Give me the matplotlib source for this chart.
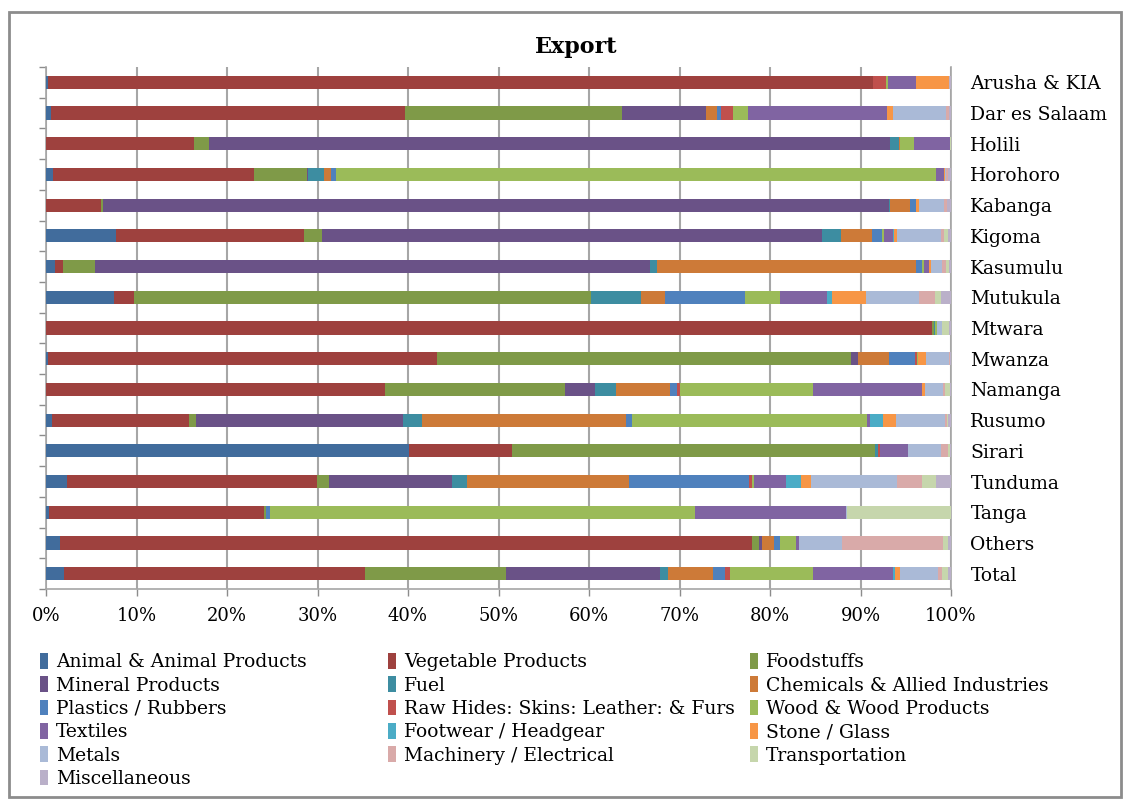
import numpy as np
import matplotlib
matplotlib.use('Agg')
import matplotlib.pyplot as plt
from matplotlib.patches import Rectangle, Patch

plt.rcParams['font.family'] = ['DejaVu Serif']

# row labels, top to bottom
locations = ['Arusha & KIA', 'Dar es Salaam', 'Holili', 'Horohoro', 'Kabanga',
             'Kigoma', 'Kasumulu', 'Mutukula', 'Mtwara', 'Mwanza', 'Namanga',
             'Rusumo', 'Sirari', 'Tunduma', 'Tanga', 'Others', 'Total']

sectors = ['Animal & Animal Products', 'Vegetable Products', 'Foodstuffs',
           'Mineral Products', 'Fuel', 'Chemicals & Allied Industries',
           'Plastics / Rubbers', 'Raw Hides: Skins: Leather: & Furs',
           'Wood & Wood Products', 'Textiles', 'Footwear / Headgear',
           'Stone / Glass', 'Metals', 'Machinery / Electrical',
           'Transportation', 'Miscellaneous']

colors = ['#416C9C', '#9E413E', '#7F9A48', '#6A5287', '#3D8DA1', '#CD7A38',
          '#4F81BD', '#C0504D', '#9BBB59', '#8064A2', '#4BACC6', '#F79646',
          '#AABAD7', '#D9AAA9', '#C6D6AC', '#BAB0C9']

# share (%) of each sector, one list per sector, in the order of `locations`
animal    = [0.2, 0.6, 0.0, 0.8, 0.0, 7.7, 1.0, 7.5, 0.0, 0.2, 0.0, 0.7, 40.1, 2.3, 0.3, 1.5, 2.0]
vegetable = [91.2, 39.1, 16.3, 22.2, 6.1, 20.8, 0.9, 2.2, 97.9, 43.0, 37.5, 15.1, 11.4, 27.6, 23.8, 76.5, 33.3]
foodstuff = [0.0, 23.9, 1.7, 5.8, 0.2, 2.0, 3.5, 50.5, 0.2, 45.8, 19.8, 0.8, 40.1, 1.4, 0.2, 0.8, 15.5]
mineral   = [0.0, 9.3, 75.3, 0.1, 86.9, 55.3, 61.3, 0.0, 0.0, 0.7, 3.4, 22.9, 0.0, 13.6, 0.0, 0.3, 17.0]
fuel      = [0.0, 0.0, 1.0, 1.8, 0.1, 2.0, 0.8, 5.5, 0.1, 0.0, 2.3, 2.0, 0.3, 1.6, 0.0, 0.0, 0.9]
chemicals = [0.0, 1.2, 0.1, 0.8, 2.2, 3.5, 28.6, 2.7, 0.0, 3.5, 6.0, 22.6, 0.0, 17.9, 0.0, 1.3, 5.0]
plastics  = [0.0, 0.5, 0.0, 0.5, 0.6, 1.1, 0.7, 8.8, 0.0, 2.8, 0.7, 0.6, 0.0, 13.3, 0.4, 0.7, 1.3]
raw_hides = [1.4, 1.3, 0.0, 0.0, 0.0, 0.0, 0.0, 0.0, 0.0, 0.2, 0.4, 0.0, 0.3, 0.3, 0.0, 0.0, 0.6]
wood      = [0.2, 1.7, 1.5, 66.3, 0.0, 0.2, 0.2, 3.9, 0.2, 0.1, 14.6, 26.0, 0.0, 0.2, 47.0, 1.8, 9.2]
textiles  = [3.1, 15.3, 4.0, 0.9, 0.0, 1.0, 0.6, 5.2, 0.0, 0.1, 12.1, 0.4, 3.1, 3.6, 16.7, 0.3, 8.8]
footwear  = [0.0, 0.0, 0.0, 0.0, 0.0, 0.1, 0.0, 0.5, 0.0, 0.0, 0.0, 1.4, 0.0, 1.6, 0.0, 0.0, 0.2]
stone     = [3.7, 0.7, 0.0, 0.1, 0.4, 0.3, 0.2, 3.8, 0.0, 0.8, 0.3, 1.4, 0.0, 1.1, 0.0, 0.0, 0.6]
metals    = [0.0, 5.9, 0.0, 0.2, 2.7, 4.9, 1.2, 5.9, 0.6, 2.6, 2.0, 5.4, 3.6, 9.5, 0.1, 4.8, 4.2]
machinery = [0.0, 0.3, 0.0, 0.2, 0.4, 0.3, 0.4, 1.7, 0.0, 0.1, 0.2, 0.3, 0.8, 2.8, 0.0, 11.1, 0.4]
transport = [0.0, 0.0, 0.1, 0.0, 0.0, 0.5, 0.4, 0.7, 0.8, 0.0, 0.6, 0.1, 0.2, 1.5, 11.5, 0.6, 0.7]
misc      = [0.2, 0.2, 0.0, 0.3, 0.4, 0.3, 0.2, 1.1, 0.2, 0.1, 0.1, 0.3, 0.1, 1.7, 0.0, 0.3, 0.3]

series = [animal, vegetable, foodstuff, mineral, fuel, chemicals, plastics,
          raw_hides, wood, textiles, footwear, stone, metals, machinery,
          transport, misc]

xticks = np.arange(0, 101, 10)
xtick_labels = ['%d%%' % t for t in xticks]

fig = plt.figure(figsize=(11.3, 8.05), dpi=100)
ax = fig.add_axes([46 / 1130, 1 - 589 / 805, (951 - 46) / 1130, (589 - 67) / 805])

# outer chart frame
fig.patches.append(Rectangle((9 / 1130, 8 / 805), 1112 / 1130, 785 / 805,
                             transform=fig.transFigure, fill=False,
                             edgecolor='#8c8c8c', linewidth=2))

data = np.array(series, dtype=float)
data = data / data.sum(axis=0) * 100
y = np.arange(len(locations))

left = np.zeros(len(locations))
handles = []
for name, vals, col in zip(sectors, data, colors):
    ax.barh(y, vals, left=left, height=0.43, color=col, linewidth=0, zorder=3)
    left += vals
    handles.append(Patch(facecolor=col, edgecolor='none', label=name))

ax.set_xlim(0, 100)
ax.set_ylim(len(locations) - 0.5, -0.5)

ax.set_xticks(xticks)
ax.set_xticklabels(xtick_labels, fontsize=13)
ax.grid(axis='x', color='#a6a6a6', linewidth=1.5, zorder=0)
ax.tick_params(axis='x', direction='out', length=5, width=1, color='#8c8c8c',
               pad=8)

ax.set_yticks(y)
ax.set_yticklabels(locations, fontsize=13.5)
ax.tick_params(axis='y', which='major', length=0, left=False, right=False,
               labelleft=False, labelright=True, pad=14)
ax.set_yticks(np.arange(len(locations) + 1) - 0.5, minor=True)
ax.tick_params(axis='y', which='minor', direction='out', length=5, width=1,
               color='#8c8c8c', left=True, right=False)

ax.spines['top'].set_visible(False)
for s in ['left', 'bottom', 'right']:
    ax.spines[s].set_color('#a6a6a6')
    ax.spines[s].set_linewidth(1.2)

fig.text(576 / 1130, 1 - 47 / 805, 'Export', fontsize=16, fontweight='bold',
         ha='center', va='center')

# legend laid out row by row in three columns, as in the original
col_x = [40, 388, 750]
for c in range(3):
    idx = list(range(c, len(sectors), 3))
    fig.legend([handles[i] for i in idx], [sectors[i] for i in idx],
               loc='upper left', bbox_to_anchor=(col_x[c] / 1130, 1 - 653 / 805),
               frameon=False, fontsize=13.5, handlelength=0.4, handleheight=0.9,
               handletextpad=0.45, labelspacing=0.27,
               borderaxespad=0, borderpad=0)

fig.savefig('out.png', dpi=100)
